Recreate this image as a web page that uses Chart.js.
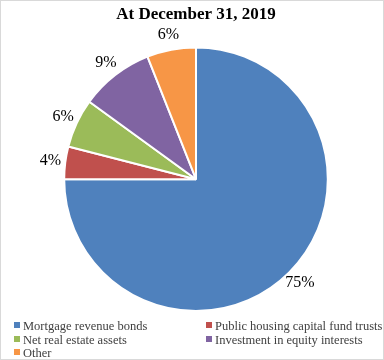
<!DOCTYPE html>
<html>
<head>
<meta charset="utf-8">
<script src="https://cdn.jsdelivr.net/npm/chart.js@4/dist/chart.umd.min.js"></script>
<style>
  html, body { margin: 0; padding: 0; background: #fff; }
  #wrap { position: relative; width: 384px; height: 360px; }
  #frame { position: absolute; left: 0; top: 0; width: 384px; height: 360px; box-sizing: border-box; border: 1px solid #d9d9d9; pointer-events: none; }
  #legend { position: absolute; left: 14px; top: 319px; width: 365px; font-family: "Liberation Serif", "Times New Roman", serif; font-size: 12.5px; color: #404040; }
  .item { position: absolute; white-space: nowrap; line-height: 14px; }
  .box { display: inline-block; width: 6px; height: 6px; margin-right: 3px; vertical-align: 2px; }
</style>
</head>
<body>
<div id="wrap">
  <canvas id="pieChart" width="384" height="360"></canvas>
  <div id="legend"></div>
  <div id="frame"></div>
</div>
<script>
// slices, clockwise from 12 o'clock
var categories = ['Mortgage revenue bonds', 'Public housing capital fund trusts', 'Net real estate assets', 'Investment in equity interests', 'Other'];
var shares = [75, 4, 6, 9, 6];
var colors = ['#4f81bd', '#c0504d', '#9bbb59', '#8064a2', '#f79646'];
var title = 'At December 31, 2019';

// percent labels just outside the pie
var outsideLabels = {
    id: 'outsideLabels',
    afterDatasetsDraw: function(chart) {
        var ctx = chart.ctx;
        var meta = chart.getDatasetMeta(0);
        ctx.save();
        ctx.font = '16px "Liberation Serif", "Times New Roman", serif';
        ctx.fillStyle = '#000';
        ctx.textAlign = 'center';
        ctx.textBaseline = 'middle';
        meta.data.forEach(function(arc, i) {
            var mid = (arc.startAngle + arc.endAngle) / 2;
            var r = arc.outerRadius + 15;
            ctx.fillText(shares[i] + '%', arc.x + Math.cos(mid) * r, arc.y + Math.sin(mid) * r);
        });
        ctx.restore();
    }
};

var ctx = document.getElementById('pieChart').getContext('2d');
var chart = new Chart(ctx, {
    type: 'pie',
    data: {
        labels: categories,
        datasets: [{
            data: shares,
            backgroundColor: colors,
            borderColor: '#fff',
            borderWidth: 2
        }]
    },
    options: {
        responsive: false,
        animation: false,
        layout: { padding: { top: 4, left: 63, right: 55, bottom: 48 } },
        plugins: {
            legend: { display: false },
            tooltip: { enabled: false },
            title: {
                display: true,
                text: title,
                color: '#000',
                font: { family: '"Liberation Serif", "Times New Roman", serif', size: 17, weight: 'bold' },
                padding: { top: 0, bottom: 22 }
            }
        }
    },
    plugins: [outsideLabels]
});

// two-column legend below the pie
var legend = document.getElementById('legend');
categories.forEach(function(name, i) {
    var item = document.createElement('div');
    item.className = 'item';
    item.style.left = (i % 2 === 0 ? 0 : 192) + 'px';
    item.style.top = (Math.floor(i / 2) * 13.5) + 'px';
    item.innerHTML = '<span class="box" style="background:' + colors[i] + '"></span>' + name;
    legend.appendChild(item);
});
</script>
</body>
</html>
